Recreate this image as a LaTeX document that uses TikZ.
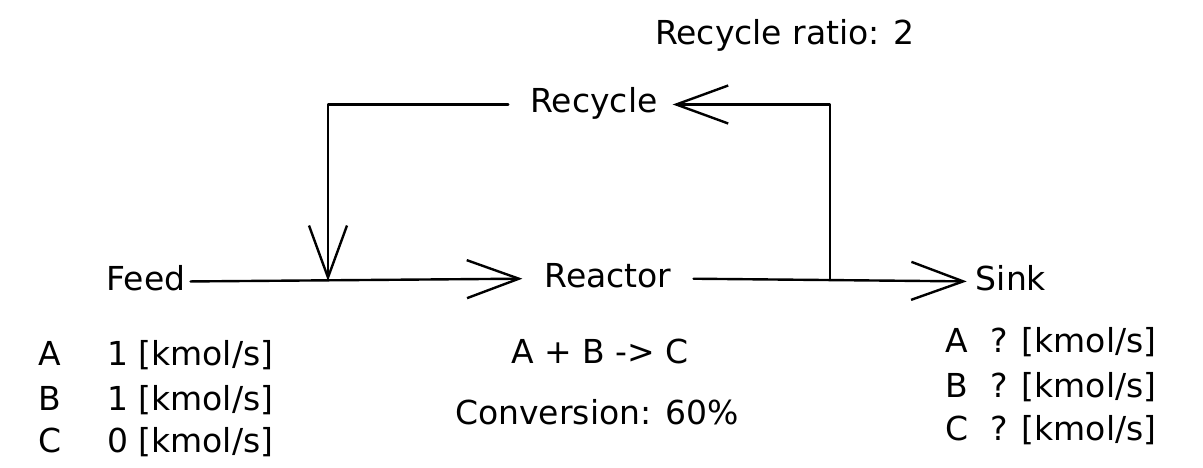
\documentclass[tikz,border=0pt]{standalone}
\usepackage{fontspec}
\setmainfont{DejaVu Sans}
\usetikzlibrary{arrows.meta}
\begin{document}
\begin{tikzpicture}[x=1pt,y=-1pt,
  lbl/.style={inner sep=0pt, font=\fontsize{33}{40}\selectfont},
  mainlbl/.style={lbl, text height=25pt, text depth=8pt},
  flow/.style={line width=2.4pt, line cap=round, line join=round},
  tip/.style={-{Straight Barb[length=52pt,width=38pt]}}]
\useasboundingbox (0,0) rectangle (1203,468);
\fill[white] (0,0) rectangle (1203,468);

% main labels
\node[mainlbl, anchor=base] (feed) at (146,290) {Feed};
\node[mainlbl, anchor=base] (reactor) at (608,287) {Reactor};
\node[mainlbl, anchor=base] (sink) at (1011,290) {Sink};
\node[mainlbl, anchor=base] (recycle) at (594,113) {Recycle};
\node[lbl, anchor=base] (ratio) at (785,45) {Recycle ratio: 2};

% junctions
\coordinate (mix) at (328,281);
\coordinate (split) at (830,280);

% connectors
\draw[flow, tip, shorten <=5pt, shorten >=22pt] (feed.east) -- (reactor.west);
\draw[flow, tip, shorten <=22pt, shorten >=9pt] (reactor.east) -- (sink.west);
\draw[flow, tip, shorten <=22pt] (recycle.west) -| (mix);
\draw[flow, tip, shorten >=15pt] (split) |- (recycle.east);

% feed table
\node[lbl, anchor=base west] (fa) at (38,365) {A};
\node[lbl, anchor=base west] (fb) at (38,410) {B};
\node[lbl, anchor=base west] (fc) at (38,452) {C};
\node[lbl, anchor=base west] (fav) at (107,365) {1 [kmol/s]};
\node[lbl, anchor=base west] (fbv) at (107,410) {1 [kmol/s]};
\node[lbl, anchor=base west] (fcv) at (107,452) {0 [kmol/s]};

% reactor info
\node[lbl, anchor=base] (rxn) at (600,363) {A + B -> C};
\node[lbl, anchor=base] (conv) at (597,424) {Conversion: 60\%};

% sink table
\node[lbl, anchor=base west] (sa) at (945,352) {A};
\node[lbl, anchor=base west] (sb) at (945,397) {B};
\node[lbl, anchor=base west] (sc) at (945,440) {C};
\node[lbl, anchor=base west] (sav) at (990,352) {? [kmol/s]};
\node[lbl, anchor=base west] (sbv) at (990,397) {? [kmol/s]};
\node[lbl, anchor=base west] (scv) at (990,440) {? [kmol/s]};
\end{tikzpicture}
\end{document}
